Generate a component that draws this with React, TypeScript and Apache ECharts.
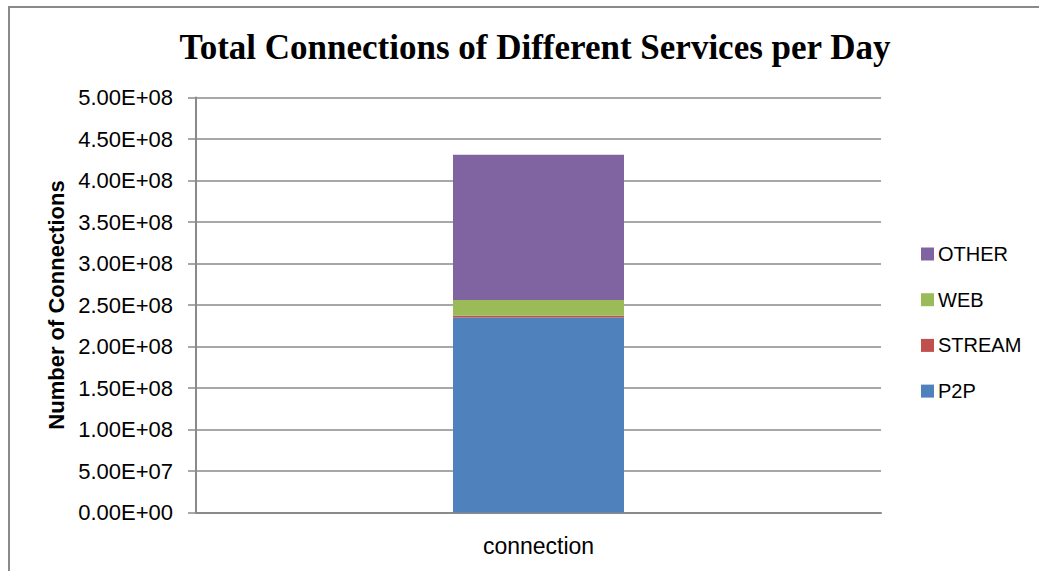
import React, { useEffect, useRef } from "react";
import * as echarts from "echarts";

const categories = ["connection"];
const seriesNames = ["P2P", "STREAM", "WEB", "OTHER"];
const p2p = [2.35e8];
const stream = [2.0e6];
const web = [1.9e7];
const other = [1.75e8];
const legendOrder = ["OTHER", "WEB", "STREAM", "P2P"];
const colors = ["#4F81BD", "#C0504D", "#9BBB59", "#8064A2"];

function fmt(v: number): string {
  if (v === 0) return "0.00E+00";
  const exp = Math.floor(Math.log10(Math.abs(v)));
  const mant = v / Math.pow(10, exp);
  const e = Math.abs(exp).toString().padStart(2, "0");
  return mant.toFixed(2) + "E" + (exp < 0 ? "-" : "+") + e;
}

export default function App() {
  const ref = useRef<HTMLDivElement>(null);
  useEffect(() => {
    if (!ref.current) return;
    const chart = echarts.init(ref.current, undefined, { renderer: "svg" });
    const values = [p2p, stream, web, other];
    chart.setOption({
      animation: false,
      backgroundColor: "#ffffff",
      title: {
        text: "Total Connections of Different Services per Day",
        left: 530,
        textAlign: "center",
        top: 25,
        textStyle: {
          fontFamily: "Liberation Serif",
          fontWeight: "bold",
          fontSize: 35,
          color: "#000",
        },
      },
      graphic: [
        {
          type: "rect",
          shape: { x: 9, y: 7, width: 1200, height: 800 },
          style: { fill: "none", stroke: "#8a8a8a", lineWidth: 2 },
          silent: true,
        },
      ],
      legend: {
        orient: "vertical",
        left: 916,
        top: 239,
        itemWidth: 13,
        itemHeight: 13,
        itemGap: 25.7,
        icon: "rect",
        data: legendOrder,
        textStyle: { fontFamily: "Liberation Sans", fontSize: 20, color: "#000", padding: [0, 0, 0, -1] },
      },
      grid: { left: 196, right: 158, top: 97.5, bottom: 58.5, containLabel: false },
      xAxis: {
        type: "category",
        data: categories,
        axisLine: { lineStyle: { color: "#8a8a8a", width: 2 } },
        axisTick: { show: false },
        axisLabel: { fontFamily: "Liberation Sans", fontSize: 23, color: "#000", margin: 22 },
      },
      yAxis: {
        type: "value",
        min: 0,
        max: 5e8,
        interval: 5e7,
        name: "Number of Connections",
        nameLocation: "middle",
        nameGap: 127,
        nameTextStyle: { fontFamily: "Liberation Sans", fontWeight: "bold", fontSize: 22, color: "#000" },
        axisLine: { show: true, lineStyle: { color: "#8a8a8a", width: 2 } },
        axisTick: { show: true, length: 8, lineStyle: { color: "#8a8a8a", width: 1.5 } },
        splitLine: { lineStyle: { color: "#8a8a8a", width: 1.5 } },
        axisLabel: {
          fontFamily: "Liberation Sans",
          fontSize: 22,
          color: "#000",
          margin: 23,
          formatter: (v: number) => fmt(v),
        },
      },
      series: seriesNames.map((n, i) => ({
        name: n,
        type: "bar",
        stack: "total",
        barWidth: 171,
        data: values[i],
        itemStyle: { color: colors[i] },
      })),
    });
    return () => chart.dispose();
  }, []);
  return <div ref={ref} style={{ position: "fixed", left: 0, top: 0, width: 1039, height: 571 }} />;
}
